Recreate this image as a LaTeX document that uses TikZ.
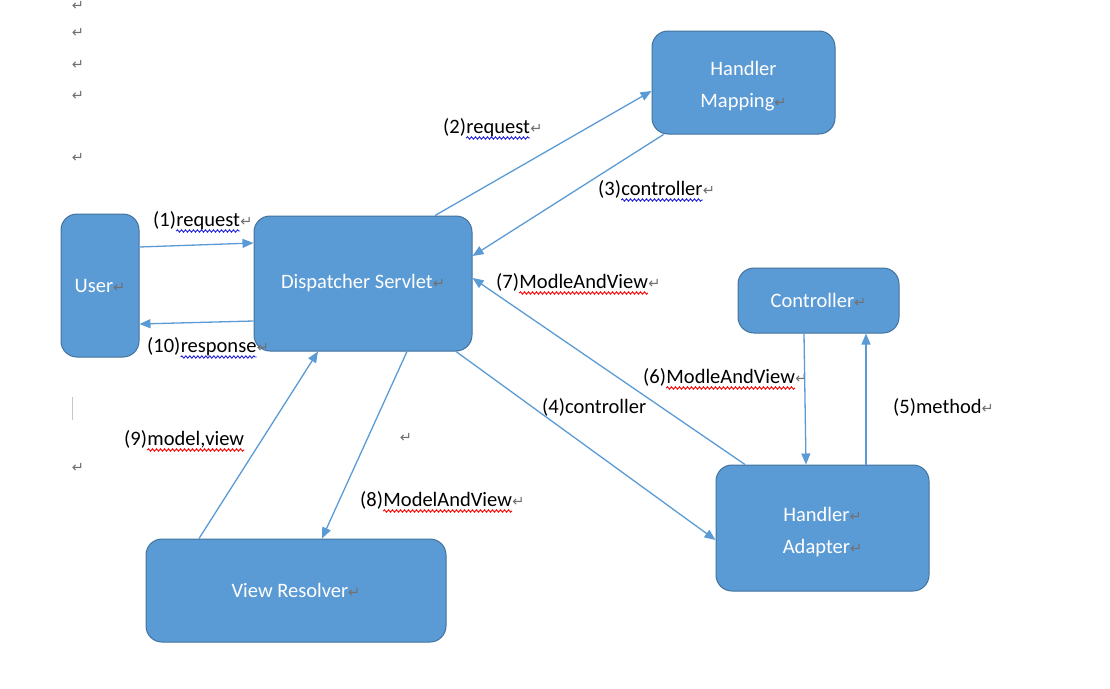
\documentclass[tikz,border=0pt]{standalone}
\usepackage{fontspec}
\setmainfont{Carlito}
\newfontfamily\markfont{DejaVu Sans}
\usetikzlibrary{arrows.meta,positioning,decorations.pathmorphing}
\definecolor{boxblue}{HTML}{5B9BD5}
\definecolor{boxline}{HTML}{41719C}
\definecolor{linkblue}{HTML}{5B9BD5}
\definecolor{markgray}{HTML}{707070}
\definecolor{wavered}{HTML}{FF0000}
\definecolor{waveblue}{HTML}{1F1FE0}
\newcommand\pmark{{\markfont\fontsize{14.5}{14.5}\selectfont\color{markgray}↵}}
\begin{document}
\begin{tikzpicture}[x=1pt,y=-1pt,
  box/.style={draw=boxline, line width=1pt, fill=boxblue, rounded corners=16pt,
    text=white, align=center, inner sep=0pt, font=\fontsize{20.5}{32}\selectfont},
  link/.style={draw=linkblue, line width=1.3pt, ->},
  lbl/.style={anchor=base west, inner sep=0pt, font=\fontsize{20.5}{23}\selectfont},
  wrd/.style={inner sep=0pt, font=\fontsize{20.5}{23}\selectfont},
  squig/.style={draw=#1, line width=0.9pt, decorate,
    decoration={snake, amplitude=1.2pt, segment length=4pt}},
  >={Triangle[length=11pt,width=9pt]}]
\useasboundingbox (0,0) rectangle (1110,688);
%% Nodes
\node[box, minimum width=78pt, minimum height=143pt](user) at (100, 285.5) {User\pmark};
\node[box, minimum width=218pt, minimum height=135pt](ds) at (363, 283.5) {Dispatcher Servlet\pmark};
\node[box, minimum width=183pt, minimum height=103pt](hm) at (743.5, 82.5) {\rule{0pt}{22pt}Handler\\Mapping\pmark};
\node[box, minimum width=161pt, minimum height=65pt](ctrl) at (818.5, 300.5) {Controller\pmark};
\node[box, minimum width=213pt, minimum height=126pt](ha) at (822.5, 528) {\rule{0pt}{22pt}Handler\pmark\\Adapter\pmark};
\node[box, minimum width=300pt, minimum height=103pt](vr) at (296, 590.5) {View Resolver\pmark};
%% Labels
\node[lbl](l1) at (153, 226) {(1)};
\node[wrd, base right=0pt of l1](w1) {request};
\node[wrd, base right=0pt of w1](p1) {\pmark};
\node[lbl](l10) at (147, 352) {(10)};
\node[wrd, base right=0pt of l10](w10) {response};
\node[wrd, base right=0pt of w10](p10) {\pmark};
\node[lbl](l2) at (443, 133) {(2)};
\node[wrd, base right=0pt of l2](w2) {request};
\node[wrd, base right=0pt of w2](p2) {\pmark};
\node[lbl](l3) at (598, 195) {(3)};
\node[wrd, base right=0pt of l3](w3) {controller};
\node[wrd, base right=0pt of w3](p3) {\pmark};
\node[lbl](l7) at (496, 288) {(7)};
\node[wrd, base right=0pt of l7](w7) {ModleAndView};
\node[wrd, base right=0pt of w7](p7) {\pmark};
\node[lbl](l6) at (643, 383) {(6)};
\node[wrd, base right=0pt of l6](w6) {ModleAndView};
\node[wrd, base right=0pt of w6](p6) {\pmark};
\node[lbl](l4) at (542, 413) {(4)controller};
\node[lbl](l5) at (893, 413) {(5)method\pmark};
\node[lbl](l8) at (360, 506) {(8)};
\node[wrd, base right=0pt of l8](w8) {ModelAndView};
\node[wrd, base right=0pt of w8](p8) {\pmark};
\node[lbl](l9) at (124, 445) {(9)};
\node[wrd, base right=0pt of l9](w9) {model,view};
%% Squiggles
\foreach \w in {w1, w10, w2, w3}
  \draw[squig=waveblue] ([yshift=-5pt]\w.base west) -- ([yshift=-5pt]\w.base east);
\foreach \w in {w7, w6, w8, w9}
  \draw[squig=wavered] ([yshift=-5pt]\w.base west) -- ([yshift=-5pt]\w.base east);
%% Marks
\foreach \y [count=\i] in {6, 33, 65, 96, 158, 468}
  \node[inner sep=0pt](m\i) at (78, \y) {\pmark};
\node[inner sep=0pt](m7) at (406, 438) {\pmark};
\draw[markgray!40, line width=0.8pt] (72, 397) -- (72, 420);
%% Lines
\draw[link] ([yshift=38.5pt]user.east) to ([yshift=40.5pt]ds.west);
\draw[link] ([yshift=-37.5pt]ds.west) to ([yshift=-38.5pt]user.east);
\draw[link] ([xshift=72pt]ds.north) to ([yshift=-8.5pt]hm.west);
\draw[link] ([xshift=-80pt]hm.south) to ([yshift=27.5pt]ds.east);
\draw[link] ([xshift=-77.5pt]ha.north) to ([yshift=5.5pt]ds.east);
\draw[link] ([xshift=93pt]ds.south) to ([yshift=-12pt]ha.west);
\draw[link] ([xshift=-14.5pt]ctrl.south) to ([xshift=-16.5pt]ha.north);
\draw[link] ([xshift=43.5pt]ha.north) to ([xshift=47.5pt]ctrl.south);
\draw[link] ([xshift=44pt]ds.south) to ([xshift=26pt]vr.north);
\draw[link] ([xshift=-97pt]vr.north) to ([xshift=-45pt]ds.south);
\end{tikzpicture}
\end{document}
